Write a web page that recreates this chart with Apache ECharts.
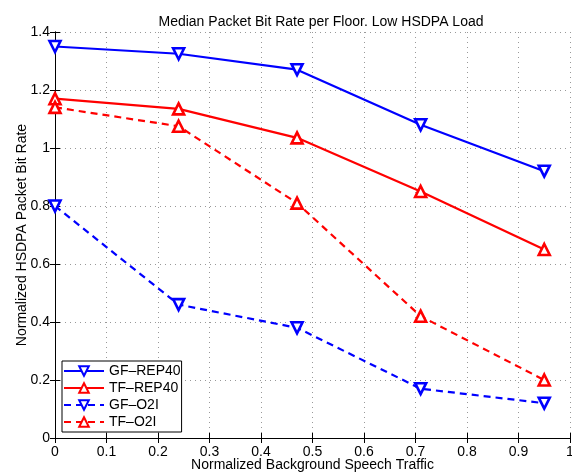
<!DOCTYPE html>
<html>
<head>
<meta charset="utf-8">
<script src="https://cdn.jsdelivr.net/npm/echarts@6/dist/echarts.min.js"></script>
<style>
  html, body { margin: 0; padding: 0; background: #fff; }
  #main { width: 572px; height: 473px; }
</style>
</head>
<body>
<div id="main"></div>
<script>
// background speech traffic (normalized)
var traffic = [0, 0.24, 0.47, 0.71, 0.95];

var gfRep40 = [1.35, 1.325, 1.27, 1.08, 0.92];
var tfRep40 = [1.17, 1.135, 1.035, 0.85, 0.65];
var gfO2I   = [0.80, 0.46, 0.38, 0.17, 0.12];
var tfO2I   = [1.14, 1.075, 0.81, 0.42, 0.20];

var seriesNames = ['GF\u2013REP40', 'TF\u2013REP40', 'GF\u2013O2I', 'TF\u2013O2I'];

function pairs(ys) {
    return ys.map(function (y, i) { return [traffic[i], y]; });
}

var fontName = 'Liberation Sans';

function mkSeries(name, ys, color, dashed, down) {
    return {
        name: name,
        type: 'line',
        data: pairs(ys),
        symbol: 'triangle',
        symbolSize: 11,
        symbolRotate: down ? 180 : 0,
        showAllSymbol: true,
        lineStyle: { color: color, width: 2.2, type: dashed ? [7, 5] : 'solid' },
        itemStyle: { color: '#fff', borderColor: color, borderWidth: 2.6 },
        emphasis: { disabled: true },
        z: 3
    };
}

var chart = echarts.init(document.getElementById('main'));

var option = {
    backgroundColor: '#fff',
    animation: false,
    title: {
        text: 'Median Packet Bit Rate per Floor. Low HSDPA Load',
        top: 10,
        left: 316,
        textAlign: 'center',
        textStyle: { fontFamily: fontName, fontSize: 14, fontWeight: 'normal', color: '#000' }
    },
    grid: { left: 55, right: 2, top: 32, bottom: 35, show: false, outerBoundsMode: 'none', containLabel: false },
    legend: {
        left: 62,
        top: 361,
        orient: 'vertical',
        itemWidth: 40,
        itemHeight: 12,
        itemGap: 3,
        padding: [3, 1, 3, 1],
        borderColor: '#000',
        borderWidth: 1,
        borderRadius: 0,
        backgroundColor: '#fff',
        textStyle: { fontFamily: fontName, fontSize: 14, color: '#000' },
        data: seriesNames
    },
    xAxis: [
        {
            type: 'value', min: 0, max: 1, interval: 0.1,
            name: 'Normalized Background Speech Traffic',
            nameLocation: 'middle', nameGap: 20, nameMoveOverlap: false,
            nameTextStyle: { fontFamily: fontName, fontSize: 14, color: '#000' },
            axisLine: { lineStyle: { color: '#000', width: 1 } },
            axisTick: { inside: true, length: 5, lineStyle: { color: '#000' } },
            axisLabel: { fontFamily: fontName, fontSize: 14, color: '#000', margin: 7 },
            splitLine: { show: true, lineStyle: { color: '#999', type: [1, 4], width: 1 } }
        },
        {
            type: 'value', min: 0, max: 1, interval: 0.1, position: 'top',
            axisLine: { lineStyle: { color: '#000', width: 1 } },
            axisTick: { inside: true, length: 5, lineStyle: { color: '#000' } },
            axisLabel: { show: false },
            splitLine: { show: false }
        }
    ],
    yAxis: [
        {
            type: 'value', min: 0, max: 1.4, interval: 0.2,
            name: 'Normalized HSDPA Packet Bit Rate',
            nameLocation: 'middle', nameGap: 26, nameMoveOverlap: false,
            nameTextStyle: { fontFamily: fontName, fontSize: 14, color: '#000' },
            axisLine: { show: true, lineStyle: { color: '#000', width: 1 } },
            axisTick: { show: true, inside: true, length: 5, lineStyle: { color: '#000' } },
            axisLabel: { fontFamily: fontName, fontSize: 14, color: '#000', margin: 5 },
            splitLine: { show: true, lineStyle: { color: '#999', type: [1, 4], width: 1 } }
        },
        {
            type: 'value', min: 0, max: 1.4, interval: 0.2, position: 'right',
            axisLine: { show: true, lineStyle: { color: '#000', width: 1 } },
            axisTick: { show: true, inside: true, length: 5, lineStyle: { color: '#000' } },
            axisLabel: { show: false },
            splitLine: { show: false }
        }
    ],
    series: [
        mkSeries(seriesNames[0], gfRep40, '#0000ff', false, true),
        mkSeries(seriesNames[1], tfRep40, '#ff0000', false, false),
        mkSeries(seriesNames[2], gfO2I, '#0000ff', true, true),
        mkSeries(seriesNames[3], tfO2I, '#ff0000', true, false)
    ]
};

chart.setOption(option);
</script>
</body>
</html>
